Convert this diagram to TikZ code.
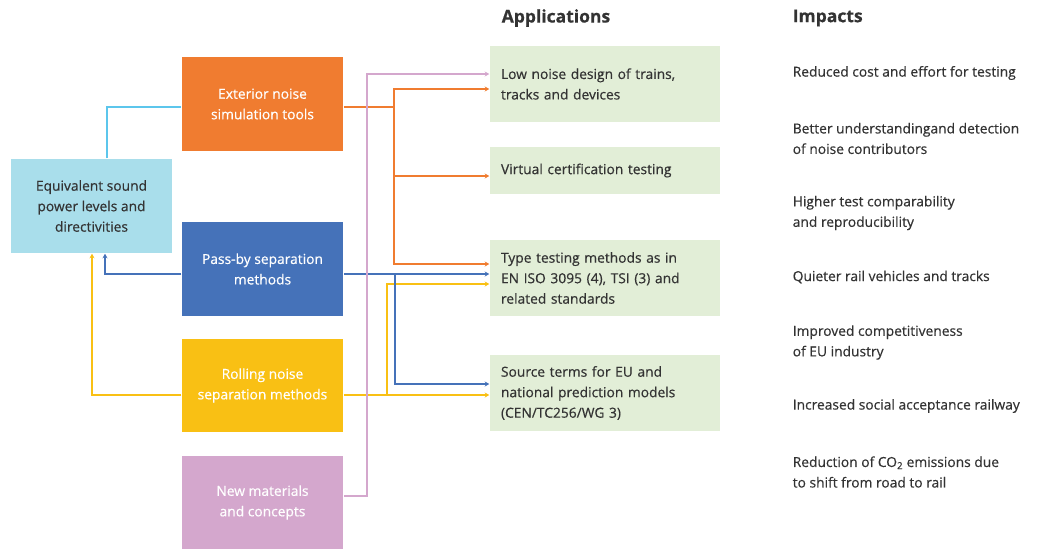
\documentclass[tikz,border=0pt]{standalone}
\usepackage{fontspec}
\setmainfont{Open Sans}[RawFeature={embolden=0.5}]
\usetikzlibrary{arrows.meta,calc,positioning}
\definecolor{eqfill}{HTML}{A9DEEB}
\definecolor{eqline}{HTML}{5CC6EC}
\definecolor{orng}{HTML}{F07C30}
\definecolor{blu}{HTML}{4572B9}
\definecolor{ylw}{HTML}{F9C014}
\definecolor{pnk}{HTML}{D4A7CD}
\definecolor{appgreen}{HTML}{E2EED7}
\definecolor{darktext}{HTML}{333333}
\tikzset{
flow/.style={x=1pt,y=-1pt,font=\fontsize{13.8}{20.5}\selectfont,
line width=1.5pt,>={Stealth[length=4.5pt,width=5pt]}},
box/.style={rectangle,fill=#1,minimum width=161pt,minimum height=94pt,
inner sep=0pt,align=center,text=white},
app/.style={rectangle,fill=appgreen,minimum width=230pt,minimum height=#1,
inner xsep=11pt,text width=208pt,align=left,text=darktext},
app/.default={76pt},
impact/.style={anchor=west,align=left,text=darktext,inner sep=0pt},
head/.style={anchor=west,inner sep=0pt,text=darktext,
font=\fontsize{17.5}{20}\selectfont\bfseries},
}

\begin{document}
\begin{tikzpicture}[flow]
\useasboundingbox (0,0) rectangle (1043,549);
% sources
\node[box=eqfill,text=darktext] (eq) at (91.5,206) {Equivalent sound\\power levels and\\directivities};
\node[box=orng] (ext) at (262.5,104) {Exterior noise\\simulation tools};
\node[box=blu] (pass) at (262.5,269) {Pass-by separation\\methods};
\node[box=ylw,minimum height=93pt] (roll) at (262.5,385.5) {Rolling noise\\separation methods};
\node[box=pnk,minimum height=93pt] (newm) at (262.5,502.5) {New materials\\and concepts};

% applications
\node[head] (apphead) at (501,18) {Applications};
\node[app] (app1) at (605,84) {Low noise design of trains,\\tracks and devices};
\node[app=47pt] (app2) at (605,170.5) {Virtual certification testing};
\node[app] (app3) at (605,278) {Type testing methods as in\\EN ISO 3095 (4), TSI (3) and\\related standards};
\node[app] (app4) at (605,393) {Source terms for EU and\\national prediction models\\(CEN/TC256/WG 3)};

% impacts
\node[head] (imphead) at (792,18) {Impacts};
\node[impact] (imp1) at (792,73) {Reduced cost and effort for testing};
\node[impact] (imp2) at (792,138.5) {Better understandingand detection\\of noise contributors};
\node[impact] (imp3) at (792,213) {Higher test comparability\\and reproducibility};
\node[impact] (imp4) at (792,277) {Quieter rail vehicles and tracks};
\node[impact] (imp5) at (792,342.5) {Improved competitiveness\\of EU industry};
\node[impact] (imp6) at (792,406) {Increased social acceptance railway};
\node[impact] (imp7) at (792,472) {Reduction of CO\textsubscript{2} emissions due\\to shift from road to rail};

% connectors
\draw[eqline] ($(eq.north)+(15.5,0)$) |- ($(ext.west)+(0,3)$);
\draw[orng] ($(ext.east)+(0,3)$) -- ++(50,0) coordinate (oj);
\foreach \t/\d in {app1/5,app2/5.5,app3/-14}
  \draw[orng,->] (oj) |- ($(\t.west)+(0,\d)$);
\draw[ylw,->] ($(roll.east)+(0,9.5)$) -- ($(app4.west)+(0,2)$);
\draw[ylw,->] ($(roll.east)+(43,9.5)$) |- ($(app3.west)+(0,6)$);
\draw[ylw,->] ($(roll.west)+(0,9.5)$) -| ($(eq.south)+(0.5,0)$);
\draw[blu,->] ($(pass.east)+(0,5)$) -- ($(app3.west)+(0,-4)$);
\draw[blu,->] ($(pass.east)+(51,5)$) |- ($(app4.west)+(0,-9)$);
\draw[blu,->] ($(pass.west)+(0,5)$) -| ($(eq.south)+(13.5,0)$);
\draw[pnk,->] ($(newm.east)+(0,-6.5)$) -- ++(23,0) |- ($(app1.west)+(0,-10)$);
\end{tikzpicture}
\end{document}
